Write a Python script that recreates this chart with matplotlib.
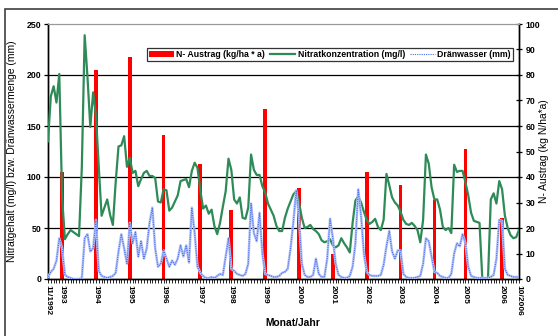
import numpy as np
import matplotlib
matplotlib.use("Agg")
import matplotlib.pyplot as plt
from matplotlib.patches import Rectangle

plt.rcParams['font.family'] = ['Liberation Sans', 'DejaVu Sans']
plt.rcParams['font.weight'] = 'bold'
plt.rcParams['font.size'] = 6

# monthly values, 11/1992 .. 10/2006 (168 months)
nitrat = [135, 179, 189, 173, 201, 80, 39, 44, 48, 46, 44, 42, 110,
          239, 198, 149, 183, 160, 110, 62, 70, 78, 63, 53, 95, 130, 131, 140, 110, 119, 104,
          106, 91, 98, 104, 106, 101, 101, 99, 76, 75, 88, 87,
          67, 70, 76, 82, 96, 97, 98, 90, 106, 114, 109, 87, 69, 72, 64, 68, 52, 44, 55, 71,
          86, 118, 107, 78, 74, 80, 60, 59, 70, 122, 107, 102, 102, 91, 85, 74, 68, 62, 52, 47, 47,
          60, 69, 76, 83, 86, 75, 60, 50, 51, 53, 49, 47, 44, 38, 36, 37, 39, 33, 31, 33, 40,
          35, 31, 26, 55, 77, 81, 75, 66, 58, 54, 56, 59, 51, 48, 58, 103, 92, 80, 75, 72, 66, 58,
          54, 53, 55, 52, 48, 36, 58, 122, 113, 90, 78, 78, 68, 51, 48, 50, 45, 112, 105, 106,
          106, 95, 82, 65, 57, 56, 55, 0, 0, 0, 78, 84, 74, 96, 88, 62, 50, 43, 40, 41, 48]
draen = [2, 7, 10, 18, 40, 30, 4, 2, 1, 0, 0, 0, 1,
         40, 44, 27, 30, 58, 8, 3, 2, 1, 2, 3, 6, 27, 44, 30, 15, 55, 35,
         46, 22, 37, 20, 30, 55, 70, 30, 12, 15, 28, 20,
         12, 18, 14, 20, 33, 22, 33, 16, 70, 45, 12, 6, 3, 1, 1, 2, 1, 3, 5, 4,
         22, 40, 10, 8, 5, 4, 3, 5, 15, 74, 45, 37, 65, 25, 5, 4, 3, 2, 2, 3, 6,
         7, 10, 30, 56, 87, 60, 15, 4, 2, 2, 4, 20, 5, 2, 2, 20, 59, 40, 15, 4, 2,
         1, 1, 3, 12, 35, 88, 62, 25, 7, 4, 3, 3, 3, 4, 14, 32, 47, 27, 20, 28, 28, 5,
         2, 1, 1, 1, 2, 3, 15, 40, 37, 22, 7, 6, 3, 2, 1, 1, 5, 25, 35, 32,
         44, 35, 12, 3, 2, 1, 1, 1, 1, 1, 2, 4, 20, 58, 57, 10, 4, 3, 2, 2, 2]
months = np.arange(len(nitrat))

# yearly N-Austrag (kg N/ha*a), placed at the month shown in the x labels
bar_month = [5, 17, 29, 41, 54, 65, 77, 89, 101, 113, 125, 137, 148, 161]
bar_value = [42, 82, 87, 56.5, 45, 27, 66.5, 35.5, 10, 42, 37, 31, 51, 24]
tick_month = [0] + bar_month + [167]
tick_label = ['11/1992'] + [str(y) for y in range(1993, 2007)] + ['10/2006']

fig = plt.figure(figsize=(5.58, 3.36), dpi=100)
fig.patches.append(Rectangle((5 / 558, -0.1), 1.2, 1 - 9 / 336 + 0.1, transform=fig.transFigure,
                             fill=False, edgecolor='#404040', linewidth=1.2))
ax = fig.add_axes([48 / 558, 1 - 279 / 336, 471 / 558, 255 / 336])
axl = ax.twinx()

# bars on the right scale (lower axes)
bars = ax.bar(bar_month, bar_value, width=1.3, color='#ff0000', zorder=2,
              label='N- Austrag (kg/ha * a)')
ax.set_ylim(0, 100)
ax.set_yticks(range(0, 101, 10))
ax.yaxis.tick_right()
ax.yaxis.set_label_position('right')
for v in (20, 40, 60, 80):
    ax.axhline(v, color='black', linewidth=0.9, zorder=1)
ax.tick_params(axis='y', direction='inout', length=4, width=0.9, pad=3, labelsize=6.3)

# lines on the left scale
gl, = axl.plot(months, nitrat, color='#2e8b57', linewidth=1.6, zorder=3,
               label='Nitratkonzentration (mg/l)')
axl.plot(months, draen, color='#b4c4f6', linewidth=1.8, zorder=4)
bl, = axl.plot(months, draen, color='#4a6cf0', linewidth=0.8, linestyle=(0, (1, 1)), zorder=5,
               label='Dränwasser (mm)')
axl.set_ylim(0, 250)
axl.set_yticks(range(0, 251, 50))
axl.yaxis.tick_left()
axl.yaxis.set_label_position('left')
axl.tick_params(axis='y', direction='out', length=3, width=0.9, pad=2, labelsize=6.3)

ax.set_xlim(0, 167)
ax.set_xticks(tick_month)
ax.set_xticklabels(tick_label, rotation=270, va='top', ha='center')
ax.set_xticks(months, minor=True)
ax.tick_params(axis='x', which='both', direction='out', length=3, width=0.6, pad=1.5)

for a in (ax, axl):
    a.spines['top'].set_color('#999999')
    a.spines['left'].set_linewidth(1.0)
    a.spines['right'].set_linewidth(1.0)
    a.spines['bottom'].set_linewidth(1.0)

axl.set_ylabel('Nitratgehalt (mg/l) bzw. Dränwassermenge (mm)', fontsize=7.4)
axl.yaxis.set_label_coords(-31 / 471, 0.5)
ax.set_ylabel('N- Austrag (kg N/ha*a)', rotation=90, fontsize=7.4)
ax.yaxis.set_label_coords(1 + 20 / 471, 0.5)
fig.text(293 / 558, 1 - 323 / 336, 'Monat/Jahr', ha='center', va='center', fontsize=7.4)

leg = axl.legend([bars, gl, bl], [bars.get_label(), gl.get_label(), bl.get_label()],
                 loc='center', bbox_to_anchor=((330 - 48) / 471, (279 - 54.4) / 255), ncol=3,
                 frameon=True, fancybox=False, edgecolor='black', handlelength=2.8,
                 columnspacing=0.6, handletextpad=0.3, borderpad=0.25, borderaxespad=0,
                 fontsize=6.3)
leg.get_frame().set_linewidth(0.9)

fig.savefig('out.png', dpi=100)
